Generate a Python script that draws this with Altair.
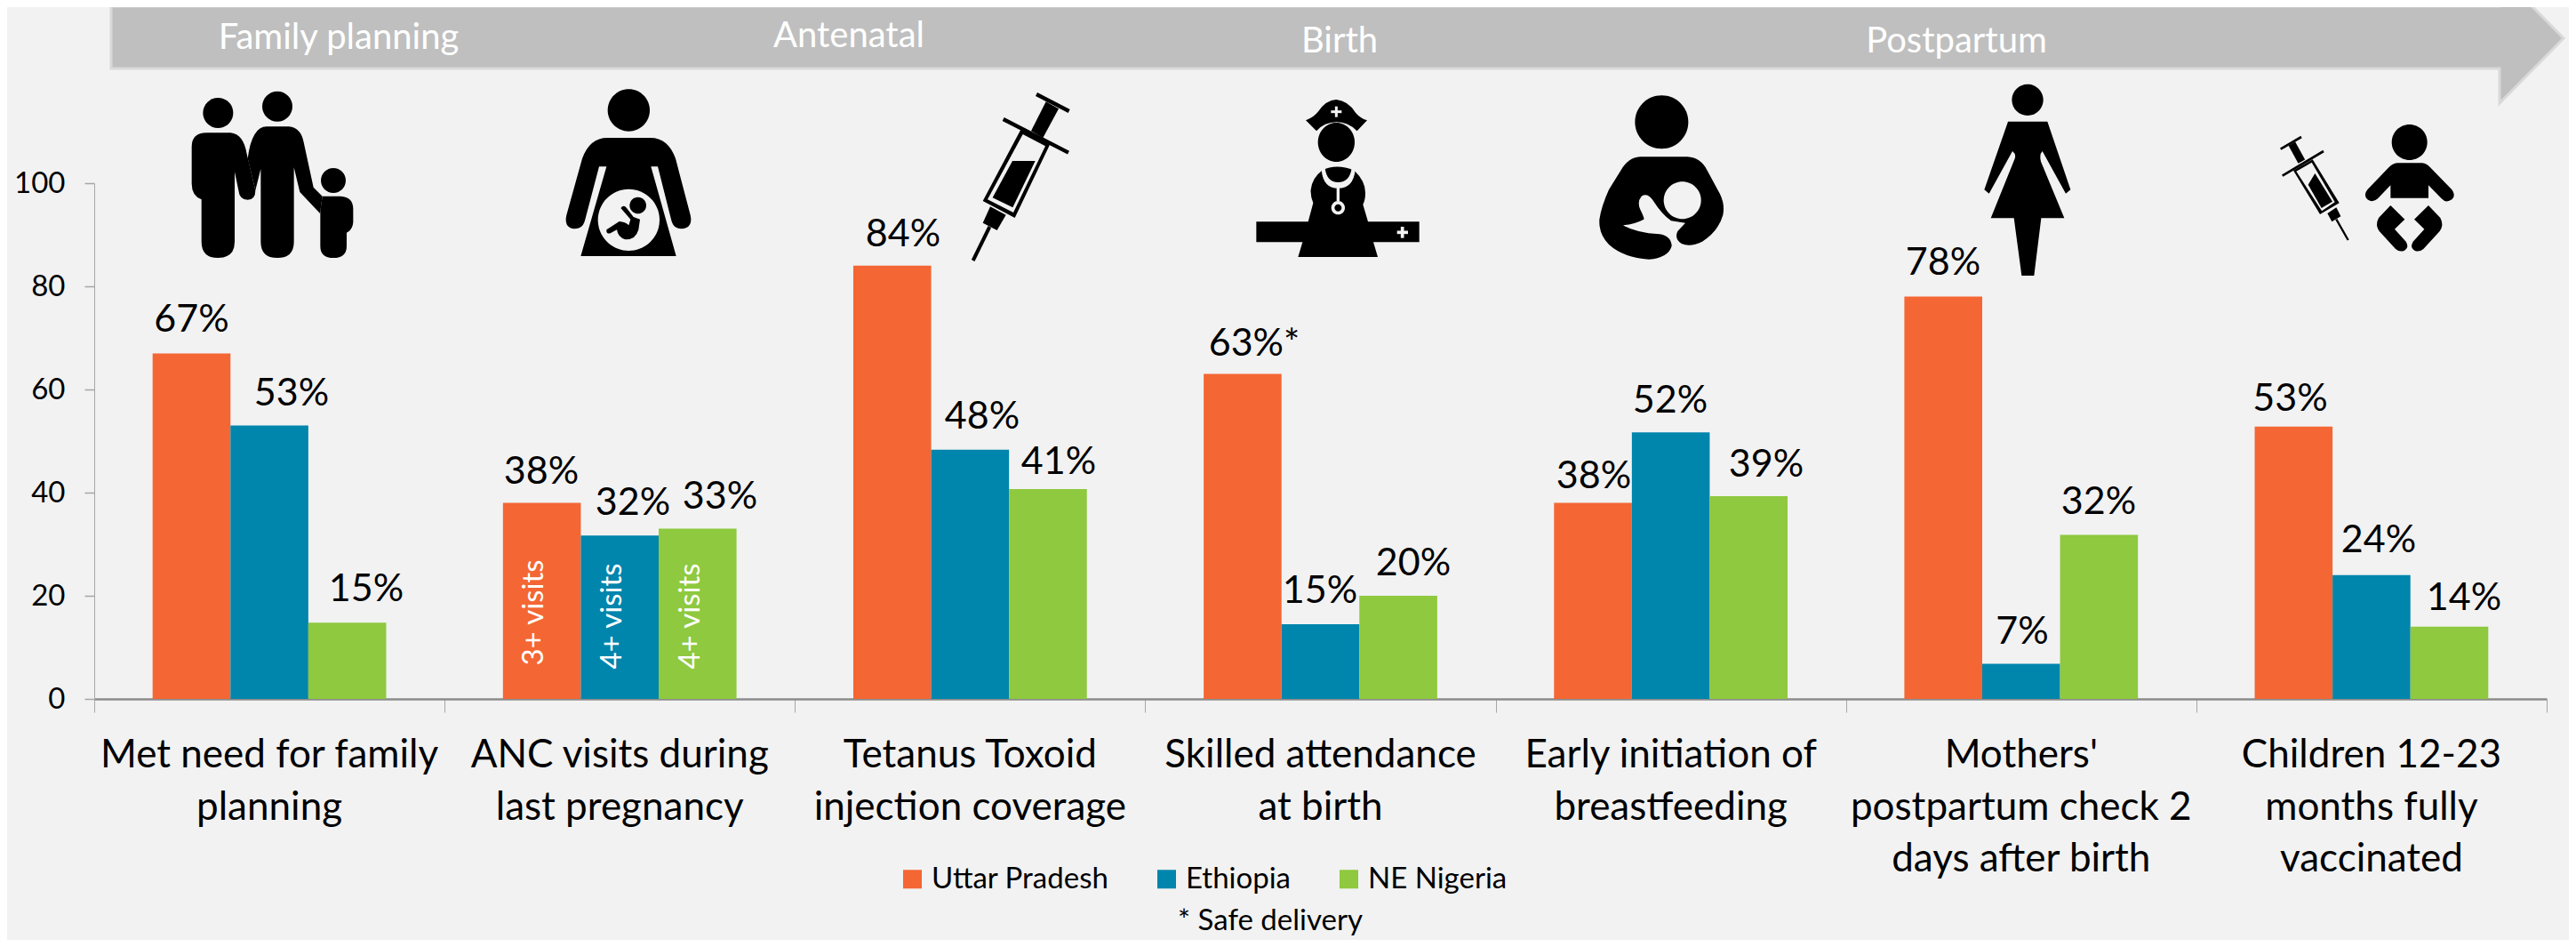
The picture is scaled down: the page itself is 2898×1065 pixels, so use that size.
import re
import altair as alt
import pandas as pd

# ---------- values ----------
CATEGORIES = ["Met need for family\nplanning", "ANC visits during\nlast pregnancy",
              "Tetanus Toxoid\ninjection coverage", "Skilled attendance\nat birth",
              "Early initiation of\nbreastfeeding", "Mothers'\npostpartum check 2\ndays after birth",
              "Children 12-23\nmonths fully\nvaccinated"]
SERIES = ["Uttar Pradesh", "Ethiopia", "NE Nigeria"]
COLORS = ["#F46633", "#0085AD", "#8EC93F"]
UTTAR = [67, 38, 84, 63, 38, 78, 52.8]
ETHIOPIA = [53, 31.7, 48.3, 14.5, 51.7, 6.8, 24]
NIGERIA = [14.8, 33, 40.7, 20, 39.3, 31.8, 14]
UTTAR_TXT = ["67%", "38%", "84%", "63%*", "38%", "78%", "53%"]
ETHIOPIA_TXT = ["53%", "32%", "48%", "15%", "52%", "7%", "24%"]
NIGERIA_TXT = ["15%", "33%", "41%", "20%", "39%", "32%", "14%"]
UTTAR_LX = [215.5, 609, 1016, 1411, 1793, 2186, 2576.5]
UTTAR_LY = [357, 527.5, 261, 384, 533, 293, 445.5]
ETHIOPIA_LX = [328, 712, 1105, 1485, 1879, 2275, 2676]
ETHIOPIA_LY = [440, 563, 466, 662, 447.5, 708, 604.5]
NIGERIA_LX = [412, 810, 1191, 1590, 1987, 2361, 2772]
NIGERIA_LY = [660, 556, 516.5, 631, 520, 562, 670]
STAGES = ["Family planning", "Antenatal", "Birth", "Postpartum"]
STAGE_X = [381, 955, 1507, 2201]
STAGE_Y = [41, 39, 45, 45]
VISITS = ["3+ visits", "4+ visits", "4+ visits"]
VISIT_X = [601, 689, 777]
VISIT_Y = [689, 693, 693]

BG = "#F2F2F2"
BLACK = "#000000"
FONT = "Lato"

# ---------- scales in reference pixels ----------
X0, STEP, Y0, UNIT = 106.0, 394.14, 786.0, 5.8


def data_x(px):
    return (px - X0) / STEP


def data_y(py):
    return (Y0 - py) / UNIT


# ---------- glyph helpers (icons are custom symbol shapes) ----------
def circ(cx, cy, r, ry=None):
    ry = r if ry is None else ry
    k = 0.5523
    return (f"M{cx-r},{cy} C{cx-r},{cy-k*ry} {cx-k*r},{cy-ry} {cx},{cy-ry} "
            f"C{cx+k*r},{cy-ry} {cx+r},{cy-k*ry} {cx+r},{cy} "
            f"C{cx+r},{cy+k*ry} {cx+k*r},{cy+ry} {cx},{cy+ry} "
            f"C{cx-k*r},{cy+ry} {cx-r},{cy+k*ry} {cx-r},{cy} Z")


def bar(x1, y1, x2, y2, w):
    dx, dy = x2 - x1, y2 - y1
    n = (dx * dx + dy * dy) ** 0.5
    ux, uy = -dy / n * w / 2, dx / n * w / 2
    return (f"M{x1+ux},{y1+uy} L{x2+ux},{y2+uy} L{x2-ux},{y2-uy} L{x1-ux},{y1-uy} Z")


def to_unit(d, ox, oy, ax, ay, unit, k=1 / 3):
    out, is_x = [], True
    for tok in re.findall(r"[MLCQZ]|-?[\d.]+", d):
        if tok in "MLCQZ":
            out.append(tok)
            is_x = True
        else:
            v = float(tok)
            v = (ox + v * k - ax) / unit if is_x else (oy + v * k - ay) / unit
            out.append(f"{v:.5f}")
            is_x = not is_x
    return " ".join(out)


ICONS = [
    (0, 200, 90, [
        (circ(136, 111, 51), BLACK),
        ("M47,225 Q47,178 97,178 L178,178 Q222,182 233,250 L262,372 Q262,404 236,404 Q208,404 205,372 L192,310 L192,545 Q192,600 136,600 Q80,600 80,545 L80,403 Q47,390 47,350 Z", BLACK),
        (circ(336, 89, 51), BLACK),
        ("M236,265 Q250,157 300,157 L375,157 Q415,160 425,210 L458,362 L488,392 L480,450 L412,378 L392,295 L392,545 Q392,600 336,600 Q280,600 280,545 L280,300 L262,372 Z", BLACK),
        (circ(525, 339, 42), BLACK),
        ("M488,392 L550,392 Q592,395 592,435 L592,480 Q590,505 570,515 L570,560 Q570,600 525,600 Q481,600 481,560 L481,440 Z", BLACK),
    ]),
    (1, 620, 90, [
        (circ(262, 102, 71), BLACK),
        ("M190,195 L335,195 Q395,195 420,265 L470,455 Q480,500 440,502 Q412,502 405,470 L360,292 L337,292 L422,594 L100,594 L187,292 L162,292 L115,470 Q108,502 78,502 Q42,498 52,455 L105,265 Q130,195 190,195 Z", BLACK),
        (circ(262, 472, 104), BG),
        (circ(293, 423, 28), BLACK),
        ("M235,432 Q245,418 255,432 L278,462 L300,470 L295,505 Q285,540 250,538 Q225,530 222,505 L200,517 Q185,520 187,505 L230,477 Q250,478 262,490 L268,470 Z", BLACK),
    ]),
    (2, 1080, 95, [
        (bar(258, 33, 368, 90, 13), BLACK),
        ("M290,58 L333,82 L280,180 L240,157 Z", BLACK),
        ("M205,152 L303,203 L185,450 L77,393 Z", BLACK),
        ("M212,168 L288,208 L180,432 L93,388 Z", BG),
        ("M177,258 L254,258 L178,415 L110,382 Z", BLACK),
        (bar(146, 117, 366, 230, 13), BLACK),
        ("M102,412 L155,440 L125,492 L77,467 Z", BLACK),
        (bar(100, 480, 44, 594, 12), BLACK),
    ]),
    (3, 1400, 100, [
        ("M310,36 Q350,40 375,80 Q390,98 414,106 L380,142 Q350,112 310,112 Q270,112 243,142 L207,106 Q235,95 250,75 Q275,38 310,36 Z", BLACK),
        (bar(292, 77, 328, 77, 9), BG),
        (bar(310, 59, 310, 95, 9), BG),
        (circ(310, 180, 62, 66), BLACK),
        ("M262,275 Q310,250 370,275 Q408,310 408,350 Q408,375 400,390 L417,448 L590,448 L590,517 L435,517 L450,567 L181,567 L196,517 L40,517 L40,448 L215,448 L232,385 Q222,360 224,340 Q228,300 262,275 Z", BLACK),
        ("M260,272 L272,268 Q278,315 316,315 Q355,315 362,268 L374,272 Q368,335 316,335 Q265,335 260,272 Z", BG),
        (bar(316, 330, 316, 380, 10), BG),
        (circ(316, 401, 23), BG),
        (circ(316, 401, 12), BLACK),
        (bar(515, 484, 552, 484, 11), BG),
        (bar(533, 465, 533, 503, 11), BG),
    ]),
    (4, 1790, 100, [
        (circ(238, 112, 90), BLACK),
        ("M165,229 L325,229 Q370,232 392,275 L435,355 Q452,390 445,425 Q430,480 375,515 Q335,535 305,522 Q280,505 292,480 L318,452 L270,445 Q240,425 208,375 Q190,350 170,362 Q155,380 165,405 Q180,435 178,440 Q150,455 108,460 Q150,485 230,490 Q270,495 272,530 Q260,570 195,575 Q110,570 60,525 Q25,490 28,440 Q35,395 60,340 L100,275 Q125,232 165,229 Z", BLACK),
        (circ(308, 376, 63), BG),
    ]),
    (5, 2220, 90, [
        (circ(183, 67, 53), BLACK),
        ("M117,140 L250,140 L328,370 L312,383 L233,240 Q222,250 228,275 L307,466 L229,466 L205,660 L163,660 L137,466 L59,466 L140,265 Q145,250 132,240 L53,383 L37,370 Z", BLACK),
    ]),
    (6, 2550, 130, [
        (bar(47, 113, 117, 72, 8), BLACK),
        (bar(85, 95, 118, 155, 26), BLACK),
        ("M90,185 L155,148 L245,295 L180,333 Z", BLACK),
        ("M100,188 L152,158 L230,292 L186,322 Z", BG),
        ("M140,233 L163,195 L222,290 L185,312 Z", BLACK),
        (bar(53, 203, 192, 120, 8), BLACK),
        ("M205,330 L235,310 L250,340 L220,358 Z", BLACK),
        (bar(235, 350, 275, 420, 7), BLACK),
        (circ(482, 90, 60), BLACK),
        ("M440,160 L525,160 Q540,162 552,175 L625,250 Q640,270 625,283 Q605,297 590,280 L546,235 L546,278 L418,278 L418,235 L375,280 Q358,296 340,283 Q325,268 340,250 L412,175 Q425,162 440,160 Z", BLACK),
        ("M418,303 L466,350 L432,383 L470,425 Q482,445 465,455 Q450,462 435,450 L380,390 Q365,370 378,345 Z", BLACK),
        ("M546,303 L498,350 L532,383 L494,425 Q482,445 499,455 Q514,462 529,450 L584,390 Q599,370 586,345 Z", BLACK),
    ]),
]
ICON_Y = 115.0
ICON_PY = Y0 - ICON_Y * UNIT
ICON_UNIT = 200.0
ICON_SIZE = (2 * ICON_UNIT) ** 2

icon_rows = []
for i, ox, oy, parts in ICONS:
    ax = X0 + STEP * (i + 0.5)
    for n, (d, fill) in enumerate(parts):
        icon_rows.append({"x": i + 0.5, "y": ICON_Y, "path": to_unit(d, ox, oy, ax, ICON_PY, ICON_UNIT),
                          "fill": fill, "n": i * 100 + n})
icons_df = pd.DataFrame(icon_rows)

# Arrow banner, drawn as one custom symbol
ARROW_UNIT = 1600.0
ARROW_SIZE = (2 * ARROW_UNIT) ** 2
ARROW_PATH = to_unit("M125,7 L2812,7 L2812,-30 L2884,43 L2812,116 L2812,77 L125,77 Z",
                     0, 0, X0 + STEP * 3.5, ICON_PY, ARROW_UNIT, k=1)
arrow_df = pd.DataFrame({"x": [3.5], "y": [ICON_Y]})

# ---------- tables ----------
W = 2 / 9
bar_rows, label_rows = [], []
for j, (name, vals, txt, lx, ly) in enumerate([
    (SERIES[0], UTTAR, UTTAR_TXT, UTTAR_LX, UTTAR_LY),
    (SERIES[1], ETHIOPIA, ETHIOPIA_TXT, ETHIOPIA_LX, ETHIOPIA_LY),
    (SERIES[2], NIGERIA, NIGERIA_TXT, NIGERIA_LX, NIGERIA_LY),
]):
    for i, v in enumerate(vals):
        bar_rows.append({"series": name, "x": i + 1 / 6 + j * W, "x2": i + 1 / 6 + (j + 1) * W, "v": v, "v0": 0})
        label_rows.append({"x": data_x(lx[i]), "y": data_y(ly[i]), "t": txt[i]})
bars_df = pd.DataFrame(bar_rows)
labels_df = pd.DataFrame(label_rows)
cats_df = pd.DataFrame({"x": [i + 0.5 for i in range(7)], "y": [data_y(863)] * 7, "t": CATEGORIES})
stage_df = pd.DataFrame({"x": [data_x(v) for v in STAGE_X], "y": [data_y(v) for v in STAGE_Y], "t": STAGES})
visit_df = pd.DataFrame({"x": [data_x(v) for v in VISIT_X], "y": [data_y(v) for v in VISIT_Y], "t": VISITS})
note_df = pd.DataFrame({"x": [data_x(1429)], "y": [data_y(1036)], "t": ["* Safe delivery"]})

x_scale = alt.Scale(domain=[0, 7], nice=False, zero=False, padding=0)
y_scale = alt.Scale(domain=[0, 100], nice=False, padding=0)
x_axis = alt.Axis(values=list(range(8)), labels=False, tickSize=15, tickColor="#A6A6A6", tickWidth=1,
                  domainColor="#8C8C8C", domainWidth=2.5, grid=False, title=None)
y_axis = alt.Axis(values=[0, 20, 40, 60, 80, 100], tickSize=11, tickColor="#A6A6A6", tickWidth=1.5,
                  domainColor="#A6A6A6", domainWidth=1, grid=False, labelFont=FONT, labelFontSize=33,
                  labelColor="#000000", labelPadding=22, title=None)
Xn = alt.X("x:Q", scale=x_scale, axis=x_axis, title=None)
Yn = alt.Y("y:Q", scale=y_scale, axis=y_axis, title=None)

arrow = alt.Chart(arrow_df).mark_point(
    shape=ARROW_PATH, size=ARROW_SIZE, filled=True, fill="#BFBFBF", stroke="#D9D9D9", strokeWidth=3, opacity=1
).encode(x=Xn, y=Yn)

icons = alt.Chart(icons_df).mark_point(filled=True, opacity=1, strokeWidth=0, size=ICON_SIZE).encode(
    x=Xn, y=Yn,
    shape=alt.Shape("path:N", scale=None),
    color=alt.Color("fill:N", scale=None),
    order=alt.Order("n:Q"),
)

bars = alt.Chart(bars_df).mark_bar().encode(
    x=Xn,
    x2="x2:Q",
    y=alt.Y("v:Q", scale=y_scale, axis=y_axis, title=None, stack=None),
    y2="v0:Q",
    color=alt.Color("series:N", sort=SERIES, scale=alt.Scale(domain=SERIES, range=COLORS),
                    legend=alt.Legend(orient="none", legendX=904, legendY=766, direction="horizontal", title=None,
                                      columns=3, symbolType="square", symbolSize=441, symbolStrokeWidth=0,
                                      labelFont=FONT, labelFontSize=33, labelColor="#000000", labelLimit=400,
                                      columnPadding=48, labelOffset=5, padding=0)),
)

labels = alt.Chart(labels_df).mark_text(font=FONT, fontSize=43, color="#000000", baseline="middle", dy=3).encode(
    x=Xn, y=Yn, text="t:N")
stages = alt.Chart(stage_df).mark_text(font=FONT, fontSize=40, color="#FFFFFF", baseline="middle", dy=2).encode(
    x=Xn, y=Yn, text="t:N")
visits = alt.Chart(visit_df).mark_text(font=FONT, fontSize=33, color="#FFFFFF", baseline="middle", angle=270).encode(
    x=Xn, y=Yn, text="t:N")
cats = alt.Chart(cats_df).mark_text(font=FONT, fontSize=44, color="#000000", baseline="alphabetic",
                                    lineBreak="\n", lineHeight=58.6, align="center").encode(
    x=Xn, y=Yn, text="t:N")
note = alt.Chart(note_df).mark_text(font=FONT, fontSize=33, color="#000000", baseline="middle").encode(
    x=Xn, y=Yn, text="t:N")

chart = alt.layer(arrow, icons, bars, labels, stages, visits, cats, note).properties(
    width=2759, height=580, background=BG,
    autosize=alt.AutoSizeParams(type="none"),
    padding={"left": 98, "top": 198, "right": 25, "bottom": 271},
).configure_view(stroke=None)

chart.save("out.html", embed_options={"renderer": "svg", "actions": False})
